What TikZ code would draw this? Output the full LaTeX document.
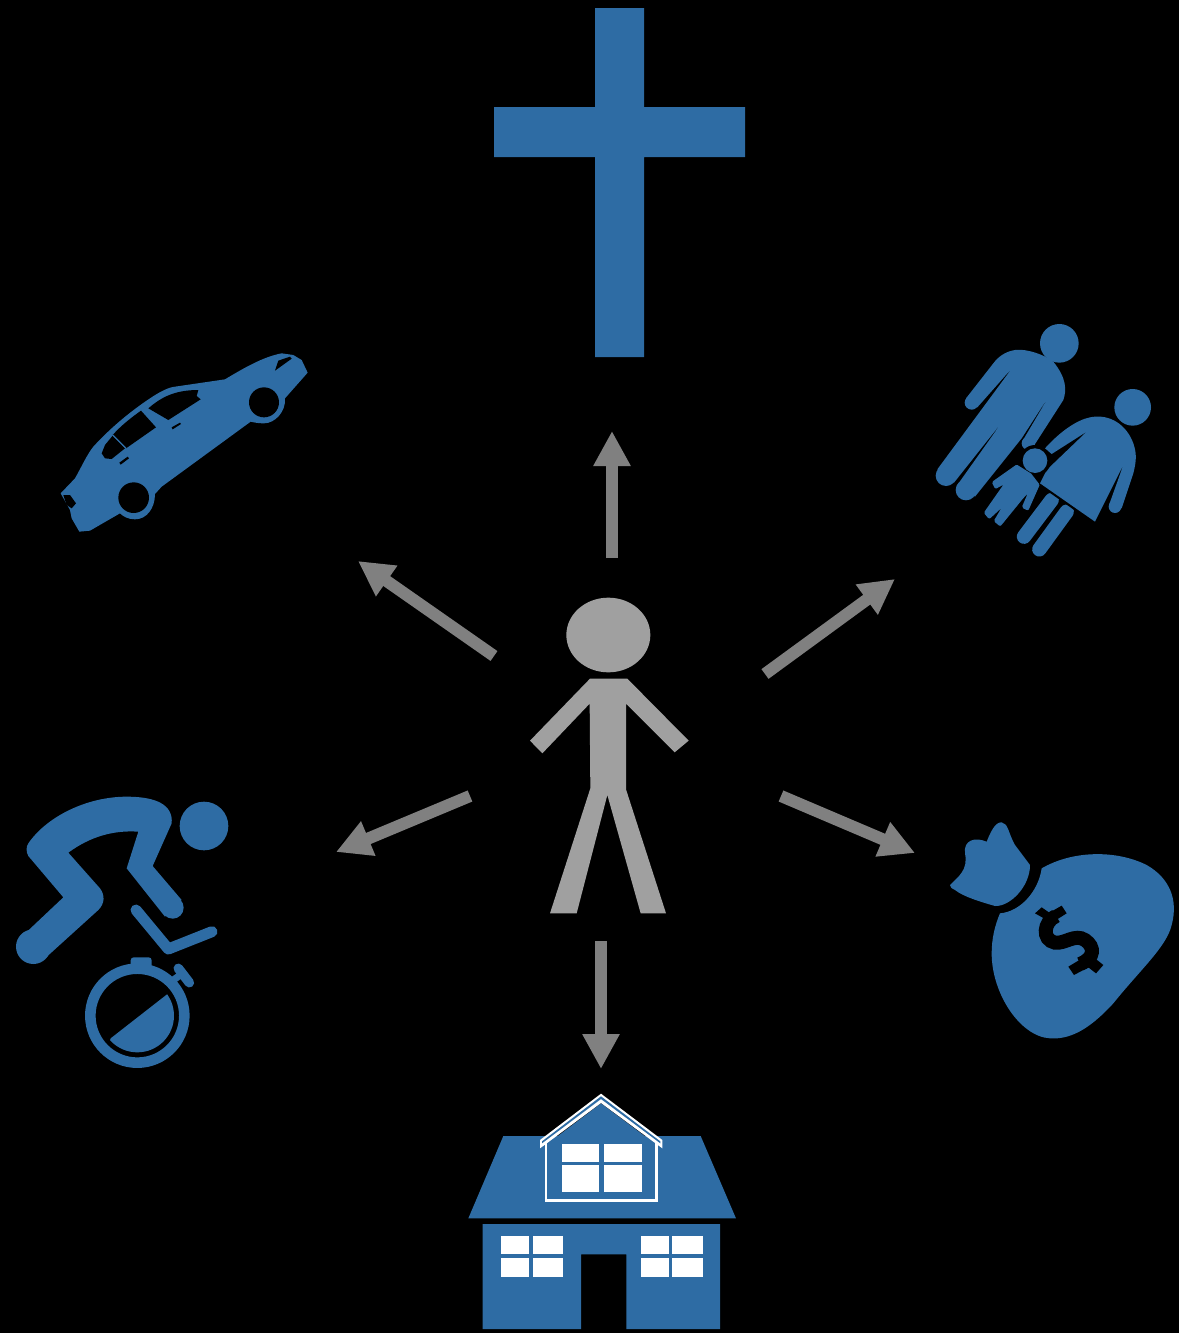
\documentclass[tikz,border=0pt]{standalone}
\usetikzlibrary{arrows.meta}
\definecolor{iconblue}{HTML}{2E6CA4}
\definecolor{figgrey}{HTML}{A0A0A0}
\definecolor{arrowgrey}{HTML}{808080}
\tikzset{
  icon/.style={fill=iconblue,draw=none},
  softicon/.style={fill=iconblue,draw=iconblue,line width=1.8pt,line join=round},
  cut/.style={fill=black,draw=none},
  win/.style={fill=white,draw=none},
  limb/.style={draw=iconblue,line cap=round,line join=round},
  ptr/.style={draw=arrowgrey,line width=6pt,-{Triangle[length=17.5pt,width=17.5pt,fill=arrowgrey]}},
  figure part/.style={fill=figgrey,draw=none}
}
\begin{document}
\begin{tikzpicture}[x=0.5pt,y=-0.5pt]
\useasboundingbox (0,0) rectangle (1179,1333);
\fill[black] (0,0) rectangle (1179,1333);

% cross
\fill[icon] (595,8) -- (644,8) -- (644,107) -- (745,107) -- (745,157) -- (644,157) -- (644,357) -- (595,357) -- (595,157) -- (494,157) -- (494,107) -- (595,107) -- cycle;

% person
\begin{scope}[shift={(510,590)},scale=1/3]
\fill[figure part] (295,135) ellipse (126 and 112);
\fill[figure part] (240,266) -- (352,266) -- (536,452) -- (494,487) -- (348,341) -- (348,598) -- (468,970) -- (392,970) -- (292,615) -- (200,970) -- (120,970) -- (241,595) -- (239,341) -- (97,490) -- (60,452) -- cycle;
\end{scope}

% arrows
\coordinate (upA) at (612,558);   \coordinate (upB) at (612,431);
\coordinate (ulA) at (494,656);   \coordinate (ulB) at (358,561);
\coordinate (urA) at (765,674);   \coordinate (urB) at (895,579);
\coordinate (lA) at (470,796);    \coordinate (lB) at (336,852);
\coordinate (rA) at (781,796);    \coordinate (rB) at (915,853);
\coordinate (dA) at (601,941);    \coordinate (dB) at (601,1069);
\draw[ptr] (upA) -- (upB);
\draw[ptr] (ulA) -- (ulB);
\draw[ptr] (urA) -- (urB);
\draw[ptr] (lA) -- (lB);
\draw[ptr] (rA) -- (rB);
\draw[ptr] (dA) -- (dB);

% car
\begin{scope}[shift={(40,340)},scale=1/3]
\fill[icon] (555,118) .. controls (610,85) and (670,50) .. (725,40)
  -- (760,45) -- (785,60) -- (803,98) -- (735,175)
  .. controls (738,215) and (705,250) .. (672,250)
  .. controls (655,250) and (645,248) .. (632,245)
  -- (365,440) -- (345,462)
  .. controls (345,505) and (320,538) .. (285,538)
  .. controls (265,538) and (250,530) .. (240,520)
  -- (150,572) -- (118,575) -- (95,535) -- (90,510) -- (62,460) -- (105,415)
  .. controls (125,380) and (140,345) .. (160,320)
  .. controls (210,265) and (270,215) .. (330,175)
  .. controls (360,155) and (385,142) .. (405,140) -- cycle;
\fill[cut] (672,187) circle (45);
\fill[cut] (281,473) circle (46);
\fill[cut] (325,205) .. controls (360,175) and (400,150) .. (475,150) -- (470,168) -- (482,178) -- (385,240) -- cycle;
\fill[cut] (303,212) -- (348,262) -- (258,325) -- (218,285) .. controls (245,255) and (275,232) .. (303,212) -- cycle;
\fill[cut] (218,287) -- (255,325) -- (215,357) -- (195,355) -- (185,340) -- (195,315) -- cycle;
\draw[draw=iconblue,line width=.6pt] (218,285) -- (258,325);
\fill[cut] (395,262) -- (420,248) -- (423,252) -- (398,268) -- cycle;
\fill[cut] (238,368) -- (263,350) -- (267,355) -- (242,374) -- cycle;
\fill[cut] (705,92) -- (715,62) -- (750,50) -- (755,56) -- cycle;
\fill[cut] (70,465) -- (90,465) -- (108,490) -- (95,505) -- (80,495) -- cycle;
\end{scope}

% family
\begin{scope}[shift={(920,310)},scale=1/3]
\fill[icon] (418,100) circle (58);
\fill[icon] (278,172) -- (52,478) -- (102,518) -- (247,335) -- (112,525) -- (165,560) -- (305,385) -- (392,250) -- (308,392) -- (340,410) -- (430,270)
  .. controls (440,240) and (440,205) .. (400,155)
  .. controls (375,135) and (320,115) .. (285,120)
  .. controls (255,125) and (235,140) .. (220,160)
  -- (138,265) -- (172,292) -- cycle;
\fill[icon] (78,497) circle (31);
\fill[icon] (138,540) circle (31);
\fill[icon] (155,278) circle (21);
\fill[icon] (325,400) circle (20);
\fill[icon] (638,292) circle (55);
\draw[limb,line width=7.2pt] (395,570) -- (312,680);
\draw[limb,line width=7.2pt] (440,605) -- (358,718);
\draw[line width=1.5pt,black] (350,515) -- (530,642);
\fill[icon] (375,415) .. controls (420,365) and (470,330) .. (510,322)
  .. controls (570,310) and (620,345) .. (640,400)
  .. controls (650,430) and (650,450) .. (640,490)
  -- (605,595) -- (567,585) -- (610,465) -- (525,635) -- (360,520) -- (380,480) -- (500,365) -- (395,432) -- cycle;
\fill[icon] (585,590) circle (19);
\fill[cut] (345,452) circle (47);
\fill[icon] (345,452) circle (37);
\fill[softicon] (290,470) -- (222,518) -- (228,530) -- (268,508) -- (198,608) -- (208,620) -- (268,565) -- (228,632) -- (240,642) -- (305,562) -- (340,525) -- (312,590) -- (322,595) -- (353,525) -- (330,495) -- cycle;
\end{scope}

% cyclist
\begin{scope}[shift={(0,780)},scale=1/3]
\fill[icon] (612,138) circle (73);
\fill[icon] (85,190) .. controls (140,110) and (260,50) .. (380,50) .. controls (470,50) and (520,75) .. (515,130) -- (458,258) -- (545,360) -- (495,410) -- (380,265) -- (415,155) .. controls (340,150) and (270,170) .. (205,218) -- (300,325) .. controls (315,345) and (315,370) .. (295,390) -- (135,535) -- (65,470) -- (190,352) -- (85,228) .. controls (78,215) and (78,200) .. (85,190) -- cycle;
\fill[icon] (100,500) circle (52);
\fill[icon] (518,383) circle (33);
\draw[limb,line width=5.5pt] (408,390) -- (505,507) -- (636,455);
\draw[draw=iconblue,line width=5.3pt] (412,707) circle (141);
\fill[icon,rounded corners=1.5pt] (392,532) -- (455,532) -- (455,565) -- (392,565) -- cycle;
\draw[limb,line width=4.8pt] (535,565) -- (568,608);
\draw[draw=iconblue,line width=3.5pt] (520,600) -- (548,580);
\begin{scope}
\clip (332,775) -- (505,640) -- (620,640) -- (620,880) -- (300,880) -- cycle;
\fill[icon] (412,707) circle (110);
\end{scope}
\end{scope}

% money bag
\begin{scope}[shift={(940,810)},scale=1/3]
\fill[icon] (30,225) .. controls (55,200) and (85,180) .. (75,130)
  .. controls (70,90) and (105,80) .. (140,95)
  .. controls (150,70) and (165,35) .. (185,37)
  .. controls (205,40) and (205,70) .. (225,105)
  -- (270,165)
  .. controls (270,230) and (210,290) .. (165,288)
  .. controls (120,275) and (70,260) .. (45,240)
  .. controls (35,235) and (30,232) .. (30,225) -- cycle;
\fill[icon] (305,175) .. controls (400,120) and (530,120) .. (620,165)
  .. controls (690,205) and (715,270) .. (695,345)
  .. controls (680,410) and (600,480) .. (520,580)
  .. controls (460,645) and (400,690) .. (330,685)
  .. controls (240,680) and (155,550) .. (155,430)
  .. controls (155,385) and (165,345) .. (180,310)
  .. controls (240,305) and (295,245) .. (305,175) -- cycle;
% dollar glyph of the icon
\begin{scope}[shift={(240,240)}]
\draw[black,line width=7pt] (108,78) .. controls (70,95) and (65,150) .. (105,158) .. controls (135,162) and (165,130) .. (195,150) .. controls (225,170) and (225,205) .. (180,222);
\fill[cut] (45,70) -- (65,52) -- (88,68) -- (125,47) -- (140,70) -- (105,92) -- (90,95) -- cycle;
\fill[cut] (145,230) -- (195,200) -- (225,205) -- (250,225) -- (228,250) -- (205,232) -- (162,255) -- cycle;
\end{scope}
\end{scope}

% house
\begin{scope}[shift={(460,1085)},scale=1/3]
\fill[icon] (130,153) -- (722,153) -- (828,400) -- (25,400) -- cycle;
\fill[icon] (68,417) -- (780,417) -- (780,732) -- (499,732) -- (499,508) -- (363,508) -- (363,732) -- (68,732) -- cycle;
\foreach \a/\b in {124/207,218/309,543/626,637/728}
  \foreach \c/\d in {454/508,520/575}
    \fill[win] (\a,\c) rectangle (\b,\d);
\fill[icon] (258,180) -- (423,55) -- (590,180) -- cycle;
\foreach \a/\b in {305/417,432/547}
  \foreach \c/\d in {177/230,240/322}
    \fill[win] (\a,\c) rectangle (\b,\d);
\draw[white,line width=1.2pt] (258,175) -- (258,346) -- (590,346) -- (590,175);
\fill[win] (240,165) -- (423,26) -- (607,165) -- (607,190) -- (423,54) -- (240,190) -- cycle;
\fill[icon] (246,169) -- (423,34) -- (601,169) -- (601,175) -- (423,42) -- (246,175) -- cycle;
\end{scope}
\end{tikzpicture}
\end{document}
